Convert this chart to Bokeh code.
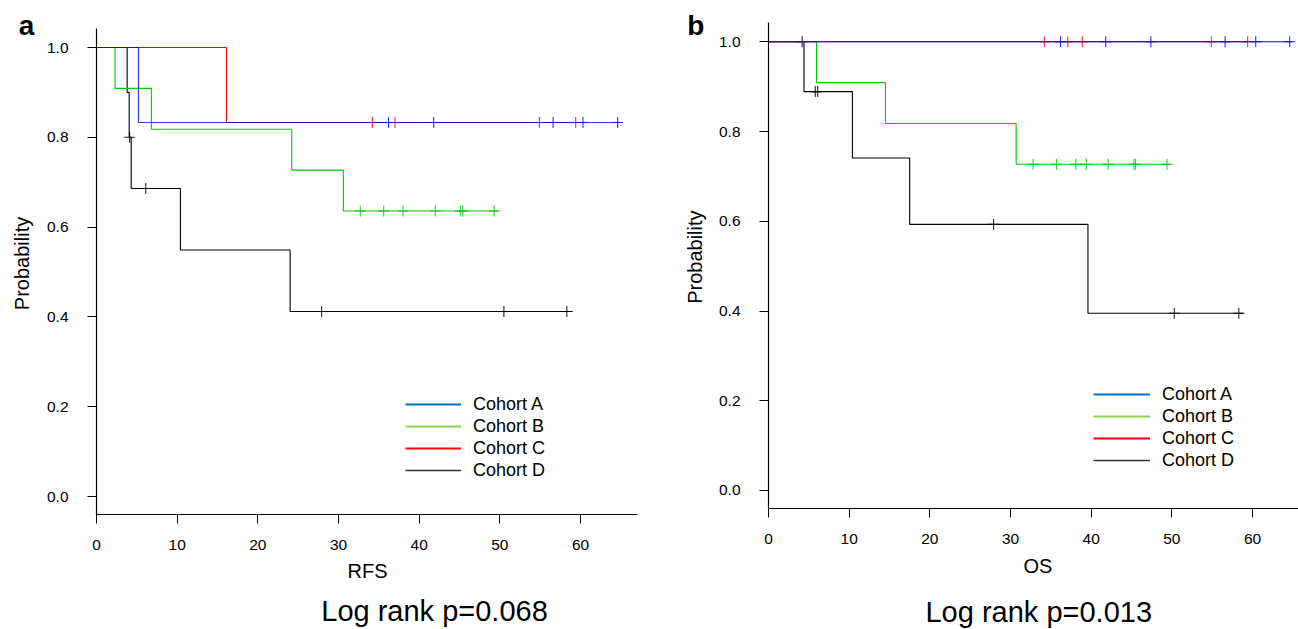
import math
from bokeh.plotting import figure
from bokeh.layouts import row
from bokeh.models import FixedTicker, PrintfTickFormatter, Label, Legend, LegendItem
from bokeh.embed import file_html
from bokeh.resources import INLINE

FONT = "Liberation Sans"

cohorts = ["Cohort A", "Cohort B", "Cohort C", "Cohort D"]
line_colors = ["#0000FF", "#00C800", "#FF0000", "#000000"]
legend_colors = ["#0070C0", "#92D050", "#FF0000", "#333333"]
legend_widths = [2.2, 2.2, 2.2, 1.4]

x_ticks = [0, 10, 20, 30, 40, 50, 60]
y_ticks = [0.0, 0.2, 0.4, 0.6, 0.8, 1.0]

# ---- Panel a: RFS ----
rfs_A_time = [0, 5.2, 64.8]
rfs_A_surv = [1.0, 0.833, 0.833]
rfs_A_cens = [36.2, 41.8, 56.6, 60.3, 64.6]

rfs_B_time = [0, 2.3, 6.8, 24.2, 30.6, 49.8]
rfs_B_surv = [1.0, 0.909, 0.818, 0.727, 0.636, 0.636]
rfs_B_cens = [32.7, 35.6, 38.0, 42.0, 45.1, 45.4, 49.3]

rfs_C_time = [0, 16.1, 59.4]
rfs_C_surv = [1.0, 0.833, 0.833]
rfs_C_cens = [34.2, 37.0, 54.9, 59.4]

rfs_D_time = [0, 3.8, 4.05, 4.3, 10.4, 24.0, 59.0]
rfs_D_surv = [1.0, 0.9, 0.8, 0.686, 0.549, 0.412, 0.412]
rfs_D_cens = [4.1, 6.1, 27.9, 50.5, 58.3]

# ---- Panel b: OS ----
os_A_time = [0, 65.0]
os_A_surv = [1.0, 1.0]
os_A_cens = [36.2, 41.8, 47.4, 56.6, 60.4, 64.6]

os_B_time = [0, 5.95, 14.5, 30.7, 49.8]
os_B_surv = [1.0, 0.909, 0.818, 0.727, 0.727]
os_B_cens = [32.8, 35.7, 38.1, 39.4, 42.1, 45.3, 45.5, 49.4]

os_C_time = [0, 59.4]
os_C_surv = [1.0, 1.0]
os_C_cens = [34.2, 37.1, 38.9, 54.9, 59.4]

os_D_time = [0, 4.4, 10.4, 17.5, 39.6, 58.9]
os_D_surv = [1.0, 0.889, 0.741, 0.593, 0.395, 0.395]
os_D_cens = [4.17, 5.8, 6.1, 27.9, 50.3, 58.3]


def surv_at(times, survs, t):
    s = survs[0]
    for ti, si in zip(times, survs):
        if ti <= t:
            s = si
    return s


def make_panel(cfg, series):
    p = figure(width=cfg["w"], height=629, x_range=cfg["xr"], y_range=cfg["yr"],
               output_backend="svg", toolbar_location=None, title=None,
               min_border_left=0, min_border_right=0, min_border_top=0, min_border_bottom=0)
    p.outline_line_color = None
    p.xgrid.visible = False
    p.ygrid.visible = False
    p.background_fill_color = "white"
    p.border_fill_color = "white"

    p.xaxis.ticker = FixedTicker(ticks=x_ticks)
    p.yaxis.ticker = FixedTicker(ticks=y_ticks)
    p.yaxis.formatter = PrintfTickFormatter(format="%.1f")
    p.xaxis.fixed_location = -0.04
    p.yaxis.fixed_location = 0
    p.xaxis.bounds = cfg["xb"]
    p.yaxis.bounds = (-0.04, 1.042)
    for ax in (p.xaxis[0], p.yaxis[0]):
        ax.axis_line_color = "black"
        ax.axis_line_width = 1.2
        ax.major_tick_line_color = "black"
        ax.major_tick_line_width = 1
        ax.major_tick_out = 9
        ax.major_tick_in = 0
        ax.minor_tick_line_color = None
        ax.major_label_text_font = FONT
        ax.major_label_text_font_size = "15.5px"
        ax.major_label_text_color = "black"
    p.yaxis.major_label_standoff = 19
    p.xaxis.major_label_standoff = 17

    # draw order: D, B, C, A
    for idx in [3, 1, 2, 0]:
        times, survs, cens = series[idx]
        col = line_colors[idx]
        p.step(x=times, y=survs, mode="after", line_color=col, line_width=1.1,
               line_alpha=cfg["blue_alpha"] if idx == 0 else 1.0)
        cy = [surv_at(times, survs, c) for c in cens]
        p.scatter(x=cens, y=cy, marker="cross", size=11, line_color=col, line_width=1.1,
                  line_alpha=0.85)

    items = []
    for name, col, w in zip(cohorts, legend_colors, legend_widths):
        r = p.line(x=[math.nan, math.nan], y=[math.nan, math.nan], line_color=col, line_width=w)
        items.append(LegendItem(label=name, renderers=[r]))
    legend = Legend(items=items, location=cfg["leg"], orientation="vertical",
                    glyph_width=cfg["lgw"], glyph_height=22, label_height=22,
                    label_standoff=12, spacing=0, padding=0, margin=0,
                    label_text_font=FONT, label_text_font_size="18px",
                    label_text_color="black",
                    border_line_color=None, background_fill_alpha=0)
    p.add_layout(legend)

    # axis titles
    p.add_layout(Label(x=cfg["ylab"][0], y=cfg["ylab"][1], text="Probability", angle=math.pi / 2,
                       text_align="center", text_baseline="middle",
                       text_font=FONT, text_font_size="20px", text_color="black"))
    p.add_layout(Label(x=cfg["xlab"][0], y=cfg["xlab"][1], text=cfg["xlabel"],
                       text_align="center", text_baseline="middle",
                       text_font=FONT, text_font_size="20px", text_color="black"))
    # log rank text
    p.add_layout(Label(x=cfg["pv"][0], y=cfg["pv"][1], text=cfg["ptext"],
                       text_align="center", text_baseline="middle",
                       text_font=FONT, text_font_size="29px", text_color="black"))
    # panel letter
    p.add_layout(Label(x=cfg["let"][0], y=cfg["let"][1], text=cfg["letter"],
                       text_align="left", text_baseline="middle",
                       text_font=FONT, text_font_size="28px", text_font_style="bold",
                       text_color="black"))
    return p


cfg_a = dict(w=652, xr=(-11.900, 68.92), yr=(-0.2962, 1.1047), xb=(0, 67.06),
             leg=(405, 148), lgw=56, ylab=(-9.21, 0.519), xlab=(33.6, -0.1666), xlabel="RFS",
             pv=(41.9, -0.256), ptext="Log rank p=0.068", let=(-9.63, 1.0486), letter="a",
             blue_alpha=0.8)
cfg_b = dict(w=646, xr=(-14.380, 65.70), yr=(-0.3098, 1.0920), xb=(0, 65.7),
             leg=(441, 158), lgw=57, ylab=(-9.05, 0.52), xlab=(33.4, -0.1672), xlabel="OS",
             pv=(33.5, -0.2697), ptext="Log rank p=0.013", let=(-10.08, 1.0359), letter="b",
             blue_alpha=1.0)

series_a = [(rfs_A_time, rfs_A_surv, rfs_A_cens), (rfs_B_time, rfs_B_surv, rfs_B_cens),
            (rfs_C_time, rfs_C_surv, rfs_C_cens), (rfs_D_time, rfs_D_surv, rfs_D_cens)]
series_b = [(os_A_time, os_A_surv, os_A_cens), (os_B_time, os_B_surv, os_B_cens),
            (os_C_time, os_C_surv, os_C_cens), (os_D_time, os_D_surv, os_D_cens)]

pa = make_panel(cfg_a, series_a)
pb = make_panel(cfg_b, series_b)

layout = row(pa, pb, spacing=0)
open("out.html", "w").write(file_html(layout, INLINE))
